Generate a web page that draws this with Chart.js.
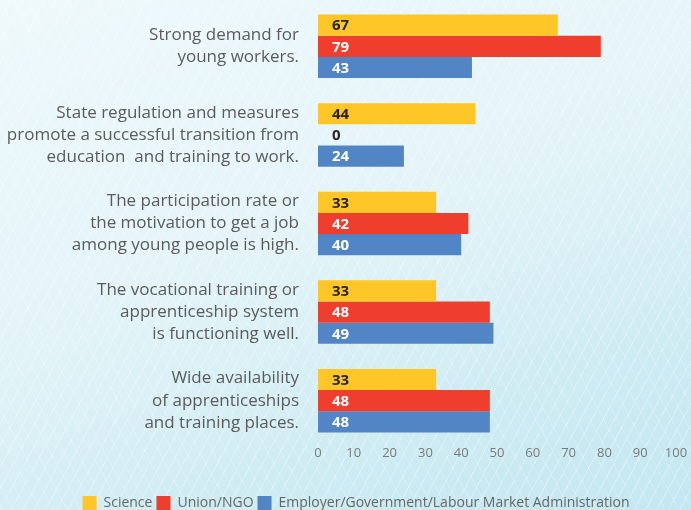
<!DOCTYPE html>
<html>
<head>
<meta charset="utf-8">
<script src="https://cdn.jsdelivr.net/npm/chart.js@4/dist/chart.umd.min.js"></script>
<style>
  html, body { margin: 0; padding: 0; }
  body {
    width: 691px; height: 510px; overflow: hidden;
    background:
      repeating-linear-gradient(118deg, rgba(255,255,255,0) 0 9px, rgba(255,255,255,0.3) 9px 10px),
      repeating-linear-gradient(62deg, rgba(255,255,255,0) 0 11px, rgba(255,255,255,0.18) 11px 12px),
      linear-gradient(160deg, #eff9fc 0%, #e3f4f8 45%, #cfecf3 75%, #c3e7f1 100%);
  }
  #wrap { position: relative; width: 691px; height: 510px; }
</style>
</head>
<body>
<div id="wrap"><canvas id="chart" width="691" height="510"></canvas></div>
<script>
const categories = [
    ['Strong demand for', 'young workers.'],
    ['State regulation and measures', 'promote a successful transition from', 'education  and training to work.'],
    ['The participation rate or', 'the motivation to get a job', 'among young people is high.'],
    ['The vocational training or', 'apprenticeship system', 'is functioning well.'],
    ['Wide availability', 'of apprenticeships', 'and training places.']
];
const science = [67, 44, 33, 33, 33];
const unionNgo = [79, 0, 42, 48, 48];
const employer = [43, 24, 40, 49, 48];
const xTicks = [0, 10, 20, 30, 40, 50, 60, 70, 80, 90, 100];

const fontFamily = '"Open Sans", "Noto Sans", sans-serif';

// numbers written inside the start of each bar
const valueLabels = {
    id: 'valueLabels',
    afterDatasetsDraw(chart) {
        const ctx = chart.ctx;
        ctx.save();
        ctx.font = 'bold 15px ' + fontFamily;
        ctx.textBaseline = 'middle';
        ctx.textAlign = 'left';
        chart.data.datasets.forEach((ds, i) => {
            const meta = chart.getDatasetMeta(i);
            meta.data.forEach((bar, j) => {
                ctx.fillStyle = ds.data[j] === 0 ? '#262626' : ds.labelColor;
                ctx.fillText(ds.data[j], chart.scales.x.getPixelForValue(0) + 14, bar.y + 1);
            });
        });
        ctx.restore();
    }
};

// nudge the legend to where it sits in the original
const legendShift = {
    id: 'legendShift',
    afterLayout(chart) {
        const lg = chart.legend;
        lg.left += 36;
        lg.top += 10;
        lg.bottom += 10;
    }
};

const ctx = document.getElementById('chart').getContext('2d');
new Chart(ctx, {
    type: 'bar',
    data: {
        labels: categories,
        datasets: [
            { label: 'Science', data: science, backgroundColor: '#ffc627', labelColor: '#262626' },
            { label: 'Union/NGO', data: unionNgo, backgroundColor: '#ef3e2d', labelColor: '#ffffff' },
            { label: 'Employer/Government/Labour Market Administration', data: employer, backgroundColor: '#5285c6', labelColor: '#ffffff' }
        ]
    },
    options: {
        indexAxis: 'y',
        responsive: false,
        animation: false,
        layout: { padding: { top: 2, left: 0, right: 15, bottom: 0 } },
        datasets: {
            bar: { categoryPercentage: 0.717, barPercentage: 1.0, borderWidth: 0 }
        },
        scales: {
            x: {
                min: 0,
                max: 100,
                grid: { display: false, drawTicks: false },
                border: { display: false },
                afterBuildTicks: (scale) => { scale.ticks = xTicks.map(v => ({ value: v })); },
                afterFit: (scale) => {
                    scale.height = 37;
                    scale.paddingLeft = 0;
                    scale.paddingRight = 0;
                },
                ticks: {
                    padding: 0,
                    color: '#7a7a7a',
                    font: { family: fontFamily, size: 13 }
                }
            },
            y: {
                grid: { display: false, drawTicks: false },
                border: { display: false },
                afterFit: (scale) => {
                    scale.width = 318;
                    scale.paddingTop = 0;
                    scale.paddingBottom = 0;
                },
                ticks: {
                    padding: 19,
                    color: '#5b5b5b',
                    font: { family: fontFamily, size: 17, lineHeight: 1.3 }
                }
            }
        },
        plugins: {
            tooltip: { enabled: false },
            legend: {
                position: 'bottom',
                labels: {
                    boxWidth: 14,
                    boxHeight: 14,
                    padding: 4,
                    color: '#666666',
                    font: { family: fontFamily, size: 14 }
                }
            }
        }
    },
    plugins: [valueLabels, legendShift]
});
</script>
</body>
</html>
